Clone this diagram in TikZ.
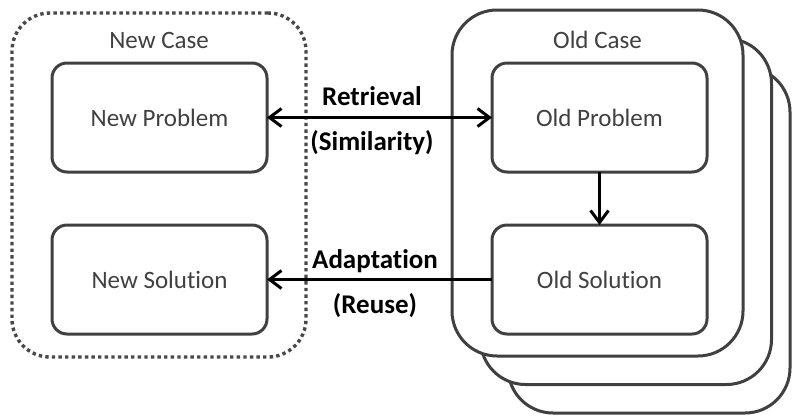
\documentclass[tikz,border=0pt]{standalone}
\usepackage{fontspec}
\setmainfont{Carlito}[Ligatures={NoCommon}]
\usetikzlibrary{arrows.meta}
\definecolor{edgegray}{HTML}{404040}
\definecolor{dotgray}{HTML}{484848}
\begin{document}
\begin{tikzpicture}[x=1pt,y=-1pt,
  card/.style={draw=edgegray, line width=3pt, fill=white, rounded corners=45pt,
    minimum width=291pt, minimum height=346pt, inner sep=0pt, outer sep=0pt},
  casebox/.style={draw=dotgray, line width=3.4pt, rounded corners=38pt,
    dash pattern=on 3.4pt off 3.2pt,
    minimum width=294pt, minimum height=344pt, inner sep=0pt, outer sep=0pt},
  part/.style={draw=edgegray, line width=3pt, fill=white, rounded corners=15pt,
    minimum width=215pt, minimum height=109pt, inner sep=0pt, outer sep=0pt,
    text=edgegray, font=\fontsize{25}{30}\selectfont},
  title/.style={text=edgegray, font=\fontsize{25}{30}\selectfont, anchor=base, inner sep=0pt},
  tag/.style={text=black, font=\bfseries\fontsize{27}{32}\selectfont, anchor=base, inner sep=0pt},
  link/.style={draw=black, line width=3pt,
    arrows={-Straight Barb[length=12pt, width=18pt]}},
  bothlink/.style={draw=black, line width=3pt,
    arrows={Straight Barb[length=12pt, width=18pt]-Straight Barb[length=12pt, width=18pt]}}]
\useasboundingbox (0,0) rectangle (792,416);

% stack of stored cases, back to front
\node[card, minimum width=282pt] (case3) at (649,240) {};
\node[card] (case2) at (626,211.5) {};
\node[card] (case1) at (597.5,183) {};

% the current case
\node[casebox] (newcase) at (159,185) {};

\node[title] (newtitle) at (159,48) {New Case};
\node[title] (oldtitle) at (597.5,48) {Old Case};

\node[part] (newprob) at (159.5,117.5) {New Problem};
\node[part] (newsol)  at (159.5,279.5) {New Solution};
\node[part] (oldprob) at (599.5,117.5) {Old Problem};
\node[part] (oldsol)  at (599.5,279.5) {Old Solution};

% connectors
\draw[bothlink] (newprob.east) -- (oldprob.west);
\draw[link] (oldsol.west) -- (newsol.east);
\draw[link] (oldprob.south) -- (oldsol.north);

% connector labels
\node[tag] (lret) at (372,105) {Retrieval};
\node[tag] (lsim) at (372,150) {(Similarity)};
\node[tag] (lada) at (375,268) {Adaptation};
\node[tag] (lreu) at (375,313) {(Reuse)};
\end{tikzpicture}
\end{document}
